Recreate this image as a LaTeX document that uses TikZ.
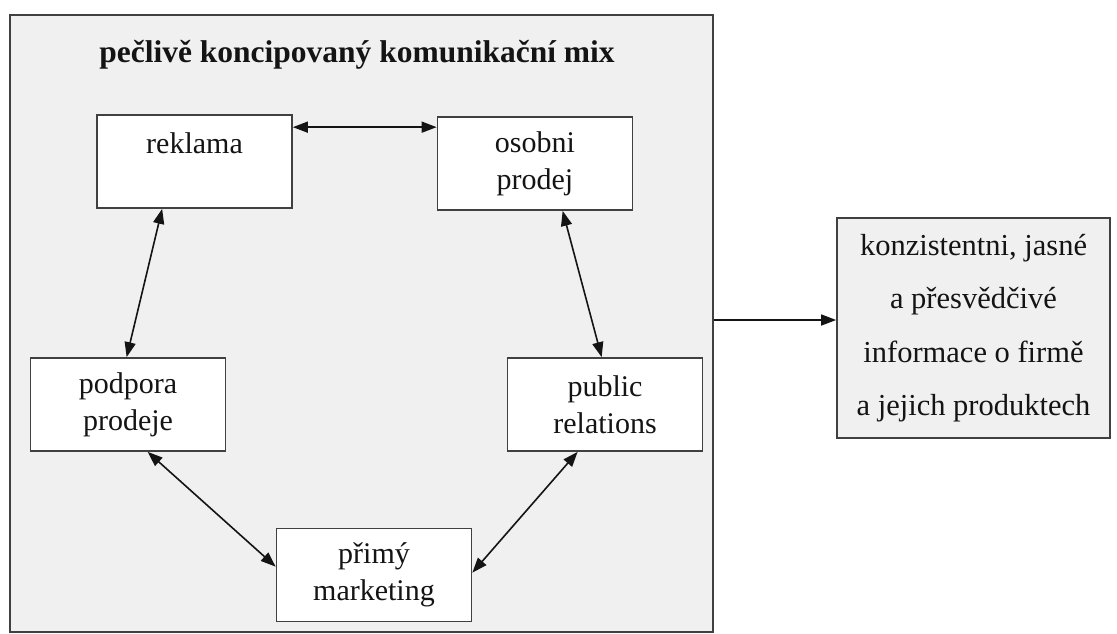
\documentclass[tikz,border=0pt]{standalone}
\usepackage{fontspec}
\setmainfont{Liberation Serif}
\usetikzlibrary{arrows.meta,calc}
\definecolor{panel}{HTML}{F0F0F0}
\definecolor{edge}{HTML}{404040}
\definecolor{ink}{HTML}{141414}
\tikzset{
  frame/.style={draw=edge,line width=1.7pt,fill=panel,minimum width=703pt,minimum height=617pt,inner sep=0pt},
  item/.style={draw=edge,line width=1.7pt,fill=white,minimum width=195pt,minimum height=93pt,inner sep=0pt,align=center,text=ink,
    font=\fontsize{30}{37}\selectfont},
  result/.style={draw=edge,line width=1.7pt,fill=panel,minimum width=273pt,minimum height=220pt,inner sep=0pt,align=center,text=ink,
    font=\fontsize{30.5}{53.5}\selectfont},
  title/.style={text=ink,font=\fontsize{31.5}{36}\selectfont\bfseries},
  link/.style={line width=1.6pt,draw=ink,{Triangle[length=15pt,width=11pt]}-{Triangle[length=15pt,width=11pt]}},
  flow/.style={line width=1.6pt,draw=ink,-{Triangle[length=15pt,width=11pt]}}
}
\begin{document}
\begin{tikzpicture}[x=1pt,y=-1pt]
\useasboundingbox (0,0) rectangle (1117,633);
\node[frame] (mix) at (361.5,323.5) {};
\node[title] (head) at (357,55) {pečlivě koncipovaný komunikační mix};
\node[item] (rek) at (194.5,161.5) {reklama\\\mbox{}};
\node[item] (oso) at (535,163.5) {osobni\\prodej};
\node[item] (pod) at (128,404.5) {podpora\\prodeje};
\node[item] (pub) at (605,404.5) {public\\relations};
\node[item] (pri) at (374,575) {přimý\\marketing};
\node[result] (res) at (973.5,328) {konzistentni, jasné\\a přesvědčivé\\informace o firmě\\a jejich produktech};
% connectors
\draw[link] ([yshift=-13pt]rek.north east) -- ([yshift=-13pt]rek.north east -| oso.west);
\draw[link] ([xshift=66pt]rek.south west) -- ([xshift=97pt]pod.north west);
\draw[link] ([xshift=126pt]oso.south west) -- ([xshift=95pt]pub.north west);
\draw[link] ([xshift=118pt]pod.south west) -- ([yshift=-39pt]pri.north west);
\draw[link] ([xshift=71pt]pub.south west) -- ([yshift=-45pt]pri.north east);
\coordinate (out) at ([yshift=8pt]res.west);
\draw[flow] (mix.east |- out) -- (out);
\end{tikzpicture}
\end{document}
